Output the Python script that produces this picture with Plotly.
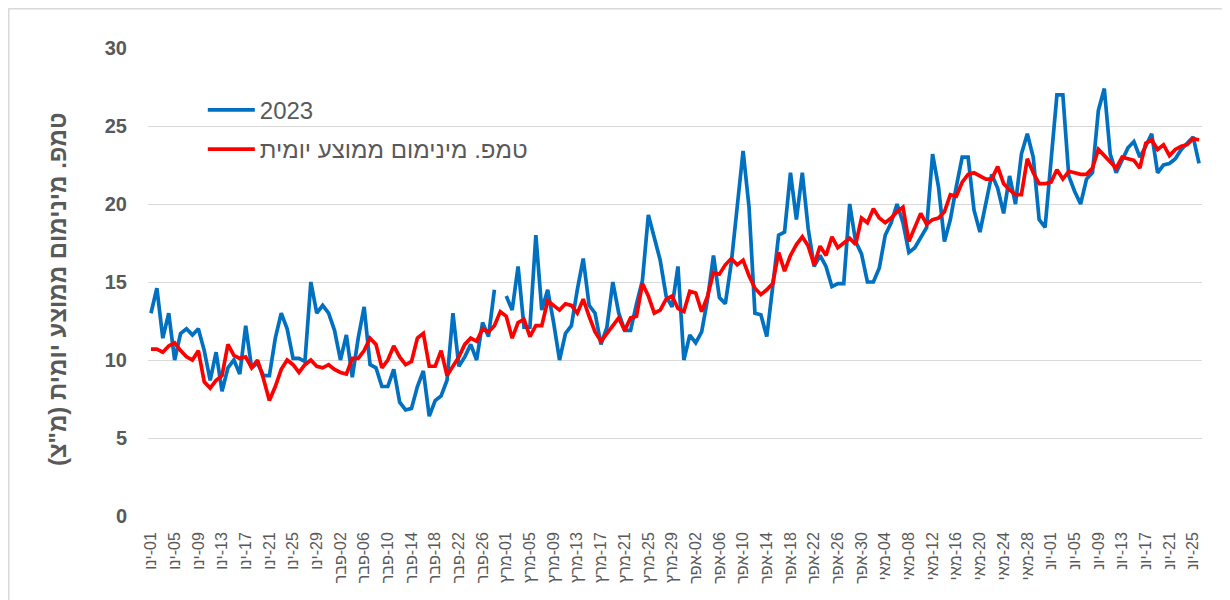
import plotly.graph_objects as go
import pandas as pd

# ---- categories (daily, Jan 1 – Jun 26; leap-year calendar so Feb 29 exists) ----
month_abbr = {1: "ינו", 2: "פבר", 3: "מרץ", 4: "אפר", 5: "מאי", 6: "יונ"}
dates = pd.date_range("2024-01-01", "2024-06-26", freq="D")
# LRM marks keep the Hebrew month on the left and the day number on the right
day_labels = [f"\u200e{month_abbr[d.month]}\u200e-{d.day:02d}" for d in dates]

# ---- series values ----
temp_2023 = [
    13.0, 14.6, 11.4, 13.0, 10.0, 11.7, 12.0, 11.6, 12.0, 10.6,
    8.7, 10.5, 8.0, 9.5, 10.0, 9.1, 12.2, 9.5, 9.8, 9.0,
    9.0, 11.4, 13.0, 12.0, 10.1, 10.1, 9.9, 15.0, 13.0, 13.5,
    13.0, 11.9, 10.0, 11.6, 8.9, 11.4, 13.4, 9.7, 9.5, 8.3,
    8.3, 9.4, 7.3, 6.8, 6.9, 8.3, 9.3, 6.4, 7.4, 7.7,
    8.7, 13.0, 9.6, 10.2, 11.0, 10.0, 12.4, 11.5, 14.5, None,
    14.1, 13.2, 16.0, 12.1, 12.1, 18.0, 13.2, 14.5, 12.4, 10.0,
    11.7, 12.2, 14.5, 16.5, 13.5, 13.0, 11.0, 12.1, 15.0, 13.0,
    11.9, 11.9, 13.6, 15.1, 19.3, 17.9, 16.4, 14.1, 13.4, 16.0,
    10.0, 11.6, 11.1, 11.8, 13.9, 16.7, 14.0, 13.6, 16.2, 19.8,
    23.4, 19.8, 13.0, 12.9, 11.5, 14.7, 18.0, 18.2, 22.0, 19.0,
    22.0, 18.4, 16.0, 16.7, 16.0, 14.7, 14.9, 14.9, 20.0, 17.6,
    16.8, 15.0, 15.0, 15.9, 18.0, 18.8, 20.0, 18.8, 16.9, 17.2,
    17.8, 18.5, 23.2, 21.1, 17.6, 19.0, 21.1, 23.0, 23.0, 19.6,
    18.2, 20.0, 21.9, 21.0, 19.4, 21.8, 20.0, 23.2, 24.5, 23.0,
    19.0, 18.5, 22.7, 27.0, 27.0, 21.8, 20.8, 20.0, 21.6, 22.0,
    26.0, 27.4, 23.2, 22.0, 22.8, 23.6, 24.0, 23.0, 23.7, 24.5,
    22.0, 22.5, 22.6, 22.9, 23.5, 23.9, 24.3, 22.6,
]

avg_daily_min = [
    10.7, 10.7, 10.5, 10.9, 11.1, 10.6, 10.2, 10.0, 10.6, 8.6,
    8.2, 8.7, 9.0, 11.0, 10.3, 10.1, 10.2, 9.5, 10.0, 8.8,
    7.4, 8.3, 9.4, 10.0, 9.7, 9.2, 9.7, 10.0, 9.6, 9.5,
    9.7, 9.4, 9.2, 9.1, 10.1, 10.1, 10.6, 11.4, 11.0, 9.5,
    10.0, 10.9, 10.2, 9.7, 9.9, 11.4, 11.7, 9.6, 9.6, 10.6,
    9.0, 9.6, 10.2, 11.0, 11.4, 11.2, 12.0, 11.8, 12.2, 13.1,
    12.8, 11.4, 12.4, 12.6, 11.5, 12.2, 12.2, 13.8, 13.5, 13.2,
    13.6, 13.5, 13.0, 13.9, 12.8, 11.8, 11.2, 11.7, 12.2, 12.7,
    11.9, 12.7, 12.8, 14.9, 14.1, 13.0, 13.2, 13.9, 14.1, 13.3,
    13.1, 14.4, 14.3, 13.1, 14.1, 15.6, 15.5, 16.1, 16.5, 16.1,
    16.4, 15.4, 14.6, 14.2, 14.5, 14.9, 16.9, 15.7, 16.7, 17.4,
    17.9, 17.3, 16.1, 17.3, 16.7, 17.9, 17.2, 17.5, 17.8, 17.4,
    19.1, 18.8, 19.7, 19.1, 18.8, 19.1, 19.5, 19.8, 17.6, 18.5,
    19.4, 18.7, 19.0, 19.1, 19.5, 20.6, 20.5, 21.4, 21.9, 22.0,
    21.8, 21.6, 21.6, 22.4, 21.3, 20.9, 20.6, 20.6, 22.9, 22.0,
    21.3, 21.3, 21.4, 22.2, 21.6, 22.1, 22.0, 21.9, 21.9, 22.3,
    23.5, 23.1, 22.7, 22.3, 23.0, 22.9, 22.8, 22.3, 23.9, 24.1,
    23.5, 23.8, 23.1, 23.5, 23.7, 23.8, 24.2, 24.1,
]

series_names = ["2023", "טמפ. מינימום ממוצע יומית"]
y_title = "טמפ. מינימום ממוצע יומית (מ\"צ)\u200f"
y_ticks = [0, 5, 10, 15, 20, 25, 30]
tick_step = 4

x_idx = list(range(len(day_labels)))
tick_vals = x_idx[::tick_step]
tick_text = day_labels[::tick_step]

GRAY = "#595959"
FONT = "Liberation Sans, Arial, sans-serif"

fig = go.Figure()
fig.add_trace(go.Scatter(
    x=x_idx, y=temp_2023, name=series_names[0], mode="lines",
    line=dict(color="#0070C0", width=3.7), connectgaps=False,
    legendgroup="a", customdata=day_labels,
    hovertemplate="%{customdata}: %{y}<extra>2023</extra>",
))
fig.add_trace(go.Scatter(
    x=x_idx, y=avg_daily_min, name=series_names[1], mode="lines",
    line=dict(color="#FF0000", width=3.7),
    legendgroup="b", customdata=day_labels,
    hovertemplate="%{customdata}: %{y}<extra></extra>",
))

fig.update_layout(
    width=1222, height=592,
    paper_bgcolor="white", plot_bgcolor="white",
    margin=dict(l=140, r=28, t=40, b=84),
    font=dict(family=FONT, color=GRAY),
    showlegend=True,
    legend=dict(
        x=0.052, y=0.915, xanchor="left", yanchor="top",
        bgcolor="rgba(0,0,0,0)",
        font=dict(family=FONT, size=24, color=GRAY),
        itemwidth=47, tracegroupgap=5,
    ),
    xaxis=dict(
        range=[-0.5, len(day_labels) - 0.5],
        tickmode="array", tickvals=tick_vals, ticktext=tick_text,
        tickangle=-90, showgrid=False, zeroline=False, showline=False,
        ticks="", automargin=False, ticklabelstandoff=12,
        tickfont=dict(family=FONT, size=16, color=GRAY),
    ),
    yaxis=dict(
        range=[0, 30], tickmode="array", tickvals=y_ticks,
        showgrid=True, gridcolor="#D9D9D9", gridwidth=1.3,
        zeroline=False, showline=False, ticks="", automargin=False,
        ticklabelstandoff=20,
        tickfont=dict(family=FONT, size=20, color=GRAY, weight="bold"),
    ),
    annotations=[
        dict(text=y_title, textangle=-90, showarrow=False,
             xref="paper", yref="paper", x=-0.0863, y=0.485,
             xanchor="center", yanchor="middle",
             font=dict(family=FONT, size=24, color=GRAY, weight="bold")),
    ],
    shapes=[
        dict(type="rect", xref="paper", yref="paper",
             x0=0.0047, x1=0.3956, y0=0.739, y1=0.910,
             fillcolor="white", line=dict(width=0), layer="between"),
        dict(type="rect", xref="paper", yref="paper",
             x0=-0.1321, x1=1.0199, y0=-0.3, y1=1.0839,
             fillcolor="rgba(0,0,0,0)", line=dict(color="#D9D9D9", width=1.5),
             layer="above"),
    ],
)

fig.write_html("out.html")
